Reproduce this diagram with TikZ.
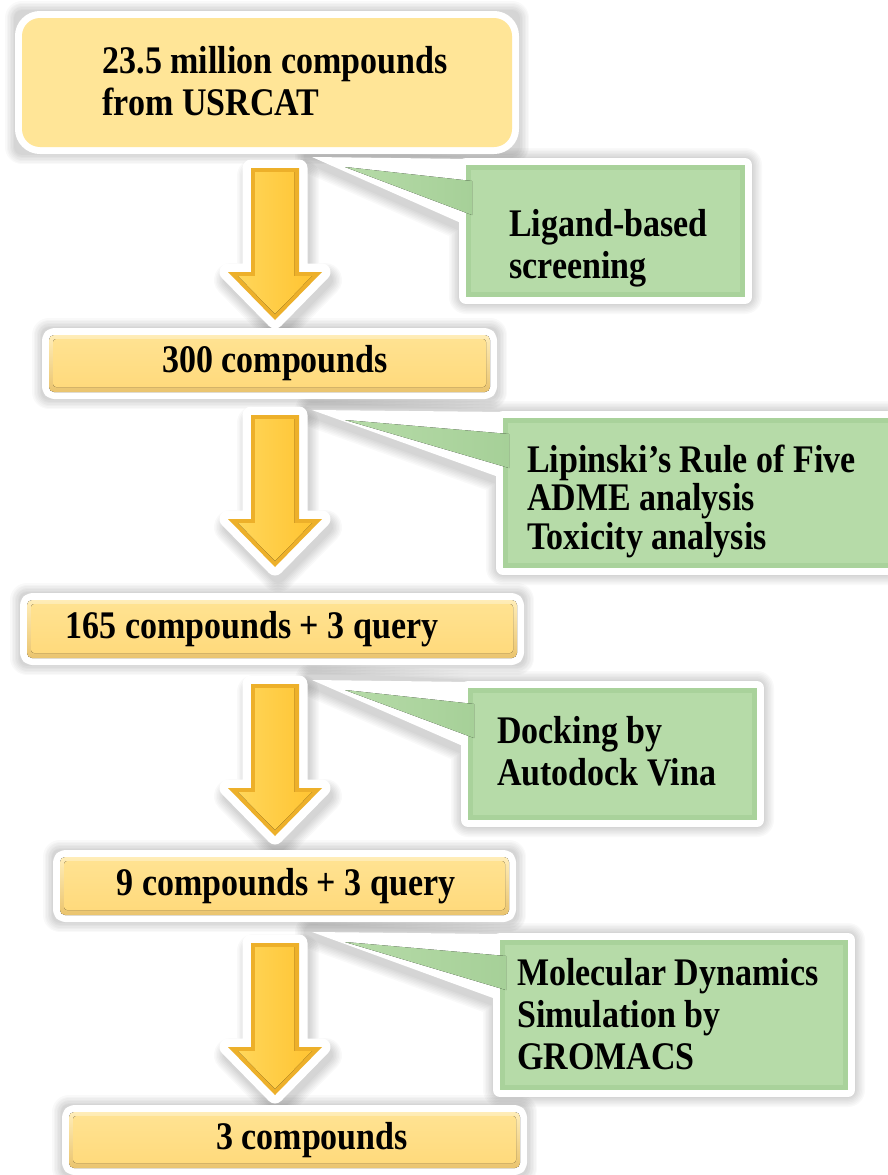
\documentclass[tikz,border=0pt]{standalone}
\usepackage{fontspec}
\usepackage{graphicx}
\setmainfont{Liberation Serif}
\usetikzlibrary{calc}
\pgfdeclarelayer{shadowl}
\pgfdeclarelayer{whitel}
\pgfdeclarelayer{filll}
\pgfsetlayers{shadowl,whitel,filll,main}

\definecolor{ytopbox}{HTML}{FFE597}
\definecolor{ybev}{HTML}{EAC46E}
\definecolor{ybevtop}{HTML}{FFEDB8}
\definecolor{ymaintop}{HTML}{FFE291}
\definecolor{ymainbot}{HTML}{FFDA7C}
\definecolor{gedge}{HTML}{A9D29B}
\definecolor{gmain}{HTML}{B6DBA8}
\definecolor{gwedge}{HTML}{A6D098}
\definecolor{aedge}{HTML}{EDB02A}
\definecolor{aleft}{HTML}{FFD65A}
\definecolor{aright}{HTML}{FFC432}

\newcommand{\softshadow}[1]{%
  \begin{pgfonlayer}{shadowl}
    \foreach \sw in {34,31,28,25,22,19,16}{%
      \draw[black, opacity=0.022, line width=\sw pt, line join=round, shift={(3,8)}] #1;
    }
  \end{pgfonlayer}}

% text with the reference's tall letter shapes
\newcommand{\tx}[1]{\scalebox{1}[1.15]{\begin{tabular}{@{}l@{}}#1\end{tabular}}}

\tikzset{
  geo/.style={rectangle, draw=none, inner sep=0pt, outer sep=0pt},
  txt/.style={font=\fontsize{34}{36.5}\selectfont\bfseries, inner sep=0pt, text=black},
  whiteframe/.style={draw=white, fill=white, line width=14pt, line join=round},
  pics/darrow/.style={code={
    \softshadow{(-24,0) -- (24,0) -- (24,104) -- (47,104) -- (0,152) -- (-47,104) -- (-24,104) -- cycle}
    \begin{pgfonlayer}{whitel}
      \draw[white, fill=white, line width=17pt, line join=round]
        (-24,0) -- (24,0) -- (24,104) -- (47,104) -- (0,152) -- (-47,104) -- (-24,104) -- cycle;
    \end{pgfonlayer}
    \begin{pgfonlayer}{filll}
      \fill[aedge] (-24,0) -- (24,0) -- (24,104) -- (47,104) -- (0,152) -- (-47,104) -- (-24,104) -- cycle;
      \fill[left color=aleft, right color=aright]
        (-20,4) -- (19,4) -- (19,108) -- (37,108) -- (0,146) -- (-37,108) -- (-20,108) -- cycle;
    \end{pgfonlayer}
  }}
}

\newcommand{\topbox}[2]{%
  \softshadow{(#1.north west) rectangle (#1.south east)}
  \begin{pgfonlayer}{whitel}
    \draw[whiteframe, rounded corners=#2] (#1.north west) rectangle (#1.south east);
  \end{pgfonlayer}
  \begin{pgfonlayer}{filll}
    \fill[ytopbox, rounded corners=#2] (#1.north west) rectangle (#1.south east);
  \end{pgfonlayer}}
\newcommand{\barbox}[1]{%
  \softshadow{(#1.north west) rectangle (#1.south east)}
  \begin{pgfonlayer}{whitel}
    \draw[whiteframe, rounded corners=5pt] (#1.north west) rectangle (#1.south east);
  \end{pgfonlayer}
  \begin{pgfonlayer}{filll}
    \fill[top color=ybevtop, bottom color=ybev, rounded corners=5pt] (#1.north west) rectangle (#1.south east);
    \fill[top color=ymaintop, bottom color=ymainbot, rounded corners=3pt]
      ($(#1.north west)+(4,4)$) rectangle ($(#1.south east)+(-4,-5)$);
  \end{pgfonlayer}}
% green callout: #1 box node, #2 green tip, #3 white tip
\newcommand{\callout}[3]{%
  \softshadow{(#1.north west) -- (#1.north east) -- (#1.south east) -- (#1.south west) -- ($(#1.north west)+(0,60)$) -- (#3) -- cycle}
  \begin{pgfonlayer}{whitel}
    \draw[whiteframe] (#1.north west) rectangle (#1.south east);
    \fill[white] (#3) -- ($(#1.north west)+(4,-6)$) -- ($(#1.north west)+(4,62)$) -- cycle;
  \end{pgfonlayer}
  \begin{pgfonlayer}{filll}
    \fill[gedge] (#1.north west) rectangle (#1.south east);
    \fill[gmain] ($(#1.north west)+(5,5)$) rectangle ($(#1.south east)+(-5,-5)$);
    \fill[left color=gmain, right color=gwedge] (#2) -- ($(#1.north west)+(6,16)$) -- ($(#1.north west)+(6,50)$) -- cycle;
  \end{pgfonlayer}}

\begin{document}
\begin{tikzpicture}[x=1pt,y=-1pt]
\useasboundingbox (0,0) rectangle (887,1175);
\begin{pgfonlayer}{shadowl}
  \fill[white] (0,0) rectangle (887,1175);
\end{pgfonlayer}

% yellow boxes (geometry)
\node[geo, minimum width=490pt, minimum height=129pt] (b1) at (267,82.5) {};
\node[geo, minimum width=441pt, minimum height=57pt] (b2) at (269.5,363.5) {};
\node[geo, minimum width=490pt, minimum height=58pt] (b3) at (272,629) {};
\node[geo, minimum width=449pt, minimum height=58pt] (b4) at (284.5,886) {};
\node[geo, minimum width=451pt, minimum height=56pt] (b5) at (294.5,1140) {};

% green boxes (geometry)
\node[geo, minimum width=279pt, minimum height=132pt] (g1) at (605.5,231) {};
\node[geo, minimum width=402pt, minimum height=150pt] (g2) at (704,493) {};
\node[geo, minimum width=289pt, minimum height=132pt] (g3) at (612.5,754) {};
\node[geo, minimum width=348pt, minimum height=150pt] (g4) at (674,1015) {};

% texts
\node[txt] (t1) at (275,86) {\tx{23.5 million compounds\\from USRCAT}};
\node[txt] (t2) at (275,364) {\tx{300 compounds}};
\node[txt] (t3) at (252,630) {\tx{165 compounds + 3 query}};
\node[txt] (t4) at (286,887) {\tx{9 compounds + 3 query}};
\node[txt] (t5) at (312,1141) {\tx{3 compounds}};
\node[txt, anchor=west] (u1) at (509,249) {\tx{Ligand-based\\screening}};
\node[txt, anchor=west, font=\fontsize{34}{33.5}\selectfont\bfseries] (u2) at (527,503) {\tx{Lipinski’s Rule of Five\\ADME analysis\\Toxicity analysis}};
\node[txt, anchor=west] (u3) at (497,756) {\tx{Docking by\\Autodock Vina}};
\node[txt, anchor=west] (u4) at (517,1019) {\tx{Molecular Dynamics\\Simulation by\\GROMACS}};

% decorations
\topbox{b1}{18pt}
\barbox{b2}
\barbox{b3}
\barbox{b4}
\barbox{b5}

\coordinate (gt1) at (345,167);  \coordinate (wt1) at (312,157);
\coordinate (gt2) at (345,420);  \coordinate (wt2) at (312,410);
\coordinate (gt3) at (345,690);  \coordinate (wt3) at (312,680);
\coordinate (gt4) at (345,942);  \coordinate (wt4) at (312,932);
\callout{g1}{gt1}{wt1}
\callout{g2}{gt2}{wt2}
\callout{g3}{gt3}{wt3}
\callout{g4}{gt4}{wt4}

% block arrows between the boxes
\coordinate (a1) at (275,168);
\coordinate (a2) at (275,415);
\coordinate (a3) at (275,684);
\coordinate (a4) at (275,943);
\pic at (a1) {darrow};
\pic at (a2) {darrow};
\pic at (a3) {darrow};
\pic at (a4) {darrow};
\end{tikzpicture}
\end{document}
